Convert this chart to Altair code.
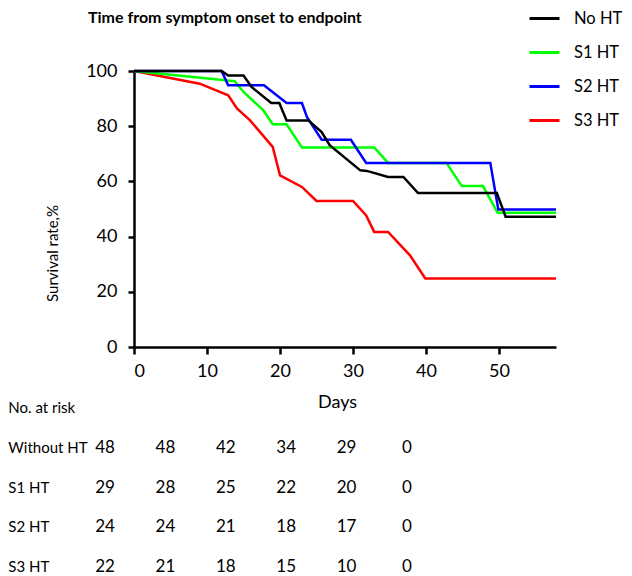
import altair as alt
import pandas as pd

# ---------------- data ----------------
groups = ["No HT", "S1 HT", "S2 HT", "S3 HT"]
colors = ["#000000", "#00ff00", "#0000ff", "#ff0000"]

no_ht_days = [0, 12.0, 12.9, 15.0, 16.1, 18.8, 19.9, 20.9, 23.9, 25.7, 26.8, 31.0, 31.9, 34.8, 36.9, 38.9, 49.7, 50.9, 57.8]
no_ht_surv = [100, 100, 98.4, 98.4, 94.2, 88.4, 88.4, 82.1, 82.1, 77.9, 73.1, 64.0, 63.8, 61.6, 61.6, 55.8, 55.8, 47.2, 47.2]

s1_days = [0, 13.8, 15.0, 17.7, 19.0, 20.9, 23.0, 32.9, 34.8, 42.8, 44.9, 47.8, 49.8, 57.8]
s1_surv = [100, 96.3, 92.4, 85.8, 80.7, 80.7, 72.3, 72.3, 66.7, 66.7, 58.3, 58.3, 48.6, 48.6]

s2_days = [0, 12.0, 12.9, 17.8, 20.9, 23.0, 23.7, 25.7, 29.7, 31.8, 48.8, 49.9, 57.8]
s2_surv = [100, 100, 94.8, 94.8, 88.4, 88.4, 83.3, 75.1, 75.1, 66.7, 66.7, 49.8, 49.8]

s3_days = [0, 9.0, 12.9, 14.1, 15.9, 19.0, 20.0, 23.0, 25.0, 30.0, 31.8, 32.9, 34.8, 37.8, 39.9, 57.8]
s3_surv = [100, 95.4, 91.2, 86.4, 82.1, 72.5, 62.2, 58.0, 52.9, 52.9, 47.7, 41.7, 41.7, 33.2, 24.8, 24.8]

x_ticks = [0, 10, 20, 30, 40, 50]
y_ticks = [0, 20, 40, 60, 80, 100]

risk_days = [0, 10, 20, 30, 40, 50]
risk_header = "No. at risk"
risk_labels = ["Without HT", "S1 HT", "S2 HT", "S3 HT"]
risk_without = [48, 48, 42, 34, 29, 0]
risk_s1 = [29, 28, 25, 22, 20, 0]
risk_s2 = [24, 24, 21, 18, 17, 0]
risk_s3 = [22, 21, 18, 15, 10, 0]

# ---------------- tables ----------------
series = [
    ("S3 HT", s3_days, s3_surv),
    ("S1 HT", s1_days, s1_surv),
    ("S2 HT", s2_days, s2_surv),
    ("No HT", no_ht_days, no_ht_surv),
]
rows = []
for g, ds, ss in series:
    for i, (d, s) in enumerate(zip(ds, ss)):
        rows.append({"group": g, "day": d, "surv": s, "i": i})
km = pd.DataFrame(rows)

risk_rows = []
for lab, vals in zip(risk_labels, [risk_without, risk_s1, risk_s2, risk_s3]):
    for d, n in zip(risk_days, vals):
        risk_rows.append({"row": lab, "day": d, "n": n})
risk_df = pd.DataFrame(risk_rows)
label_df = pd.DataFrame({"row": [risk_header] + risk_labels, "day": [-16.0] * 5})

FONT = "Lato"

# ---------------- chart ----------------
lines = alt.Chart(km).mark_line(strokeWidth=2.5).encode(
    x=alt.X(
        "day:Q",
        scale=alt.Scale(domain=[0, 57.8], nice=False, zero=False),
        axis=alt.Axis(
            values=x_ticks, title="Days", grid=False,
            domainColor="black", domainWidth=2.5,
            tickColor="black", tickWidth=2.5, tickSize=7,
            labelFont=FONT, labelFontSize=18, labelColor="black", labelPadding=8,
            titleFont=FONT, titleFontSize=18, titleFontWeight="normal", titleColor="black",
            titleX=203, titleY=55, titleBaseline="middle", titleAlign="center",
        ),
    ),
    y=alt.Y(
        "surv:Q",
        scale=alt.Scale(domain=[0, 100], nice=False),
        axis=alt.Axis(
            values=y_ticks, title="Survival rate,%", grid=False,
            domainColor="black", domainWidth=2.5,
            tickColor="black", tickWidth=2.5, tickSize=6,
            labelFont=FONT, labelFontSize=18, labelColor="black", labelPadding=11,
            titleFont=FONT, titleFontSize=15, titleFontWeight="normal", titleColor="black",
            titleX=-82, titleY=182, titleBaseline="middle", titleAlign="center", titleAngle=-90,
        ),
    ),
    color=alt.Color(
        "group:N",
        scale=alt.Scale(domain=groups, range=colors),
        legend=alt.Legend(
            title=None, orient="none", legendX=394, legendY=-69,
            symbolType="stroke", symbolSize=900, symbolStrokeWidth=3,
            labelFont=FONT, labelFontSize=16.5, labelColor="black",
            labelOffset=13, rowPadding=9,
        ),
    ),
    order="i:Q",
)

tbl_num = alt.Chart(risk_df).mark_text(
    font=FONT, fontSize=17, align="center", baseline="middle", color="black"
).encode(
    x=alt.X("day:Q", scale=alt.Scale(domain=[0, 50], range=[-29, 273]), axis=None),
    y=alt.Y("row:N", scale=alt.Scale(type="point", domain=[risk_header] + risk_labels, range=[337, 496], padding=0), axis=None),
    text="n:Q",
)

tbl_lab = alt.Chart(label_df).mark_text(
    font=FONT, fontSize=15, align="left", baseline="middle", color="black"
).encode(
    x=alt.X("day:Q", scale=alt.Scale(domain=[0, 50], range=[-29, 273]), axis=None),
    y=alt.Y("row:N", scale=alt.Scale(type="point", domain=[risk_header] + risk_labels, range=[337, 496], padding=0), axis=None),
    text="row:N",
)

chart = alt.layer(lines, tbl_lab, tbl_num).resolve_scale(
    x="independent", y="independent"
).properties(
    width=422,
    height=276,
    title=alt.TitleParams(
        "Time from symptom onset to endpoint",
        anchor="start", frame="group", dx=-46, dy=24, offset=0,
        font=FONT, fontSize=16, fontWeight="bold", color="black",
    ),
    autosize=alt.AutoSizeParams(type="none"),
    padding={"left": 126, "top": 63, "right": 68, "bottom": 229},
).configure_view(stroke=None)

chart.save("out.html", embed_options={"renderer": "svg", "actions": False})
